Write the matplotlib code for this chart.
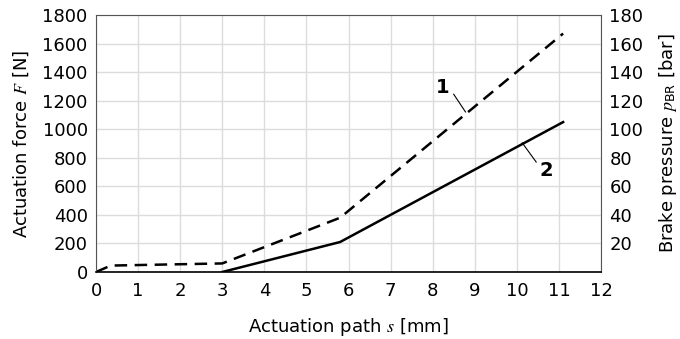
import matplotlib
matplotlib.use("Agg")
import matplotlib.pyplot as plt

plt.rcParams['font.family'] = ['DejaVu Sans']
plt.rcParams['mathtext.fontset'] = 'stix'

# curve 1: actuation force (dashed)
path_1 = [0, 0.35, 3.0, 5.8, 11.1]
force_1 = [0, 45, 60, 380, 1670]
# curve 2: brake pressure in force units (solid)
path_2 = [3.0, 5.8, 11.1]
force_2 = [0, 210, 1050]

x_ticks = list(range(0, 13))
y_ticks = list(range(0, 2000, 200))
p_ticks = list(range(20, 200, 20))

fig = plt.figure(figsize=(6.8, 3.39), dpi=100)
ax = fig.add_axes([96 / 680, 1 - 272 / 339, 505 / 680, 257 / 339])

ax.plot(path_1, force_1, color='black', lw=1.8, ls=(0, (5, 3)))
ax.plot(path_2, force_2, color='black', lw=1.8)

ax.set_xlim(0, 12)
ax.set_ylim(0, 1800)
ax.set_xticks(x_ticks)
ax.set_yticks(y_ticks)
ax.grid(True, color='#dcdcdc', lw=1)
ax.set_axisbelow(True)
ax.tick_params(axis='x', length=0, labelsize=13, pad=7)
ax.tick_params(axis='y', length=0, labelsize=13, pad=6)

for side in ['top', 'left', 'right']:
    ax.spines[side].set_color('#555555')
ax.spines['bottom'].set_color('black')
ax.spines['bottom'].set_linewidth(1.2)

ax.set_xlabel('Actuation path $s$ [mm]', fontsize=13, labelpad=12)
ax.set_ylabel('Actuation force $F$ [N]', fontsize=13, labelpad=8)

ax2 = ax.twinx()
ax2.set_ylim(0, 180)
ax2.set_yticks(p_ticks)
ax2.tick_params(length=0, labelsize=13, pad=6)
for side in ax2.spines:
    ax2.spines[side].set_visible(False)
ax2.set_ylabel('Brake pressure $p_{\\mathregular{BR}}$ [bar]', fontsize=13, labelpad=10)

# curve labels with leader lines
ax.text(8.23, 1290, '1', fontsize=14, fontweight='bold', ha='center', va='center')
ax.plot([8.5, 8.78], [1245, 1121], color='black', lw=0.8)
ax.text(10.70, 714, '2', fontsize=14, fontweight='bold', ha='center', va='center')
ax.plot([10.13, 10.46], [904, 770], color='black', lw=0.8)

fig.savefig('out.png', dpi=100)
